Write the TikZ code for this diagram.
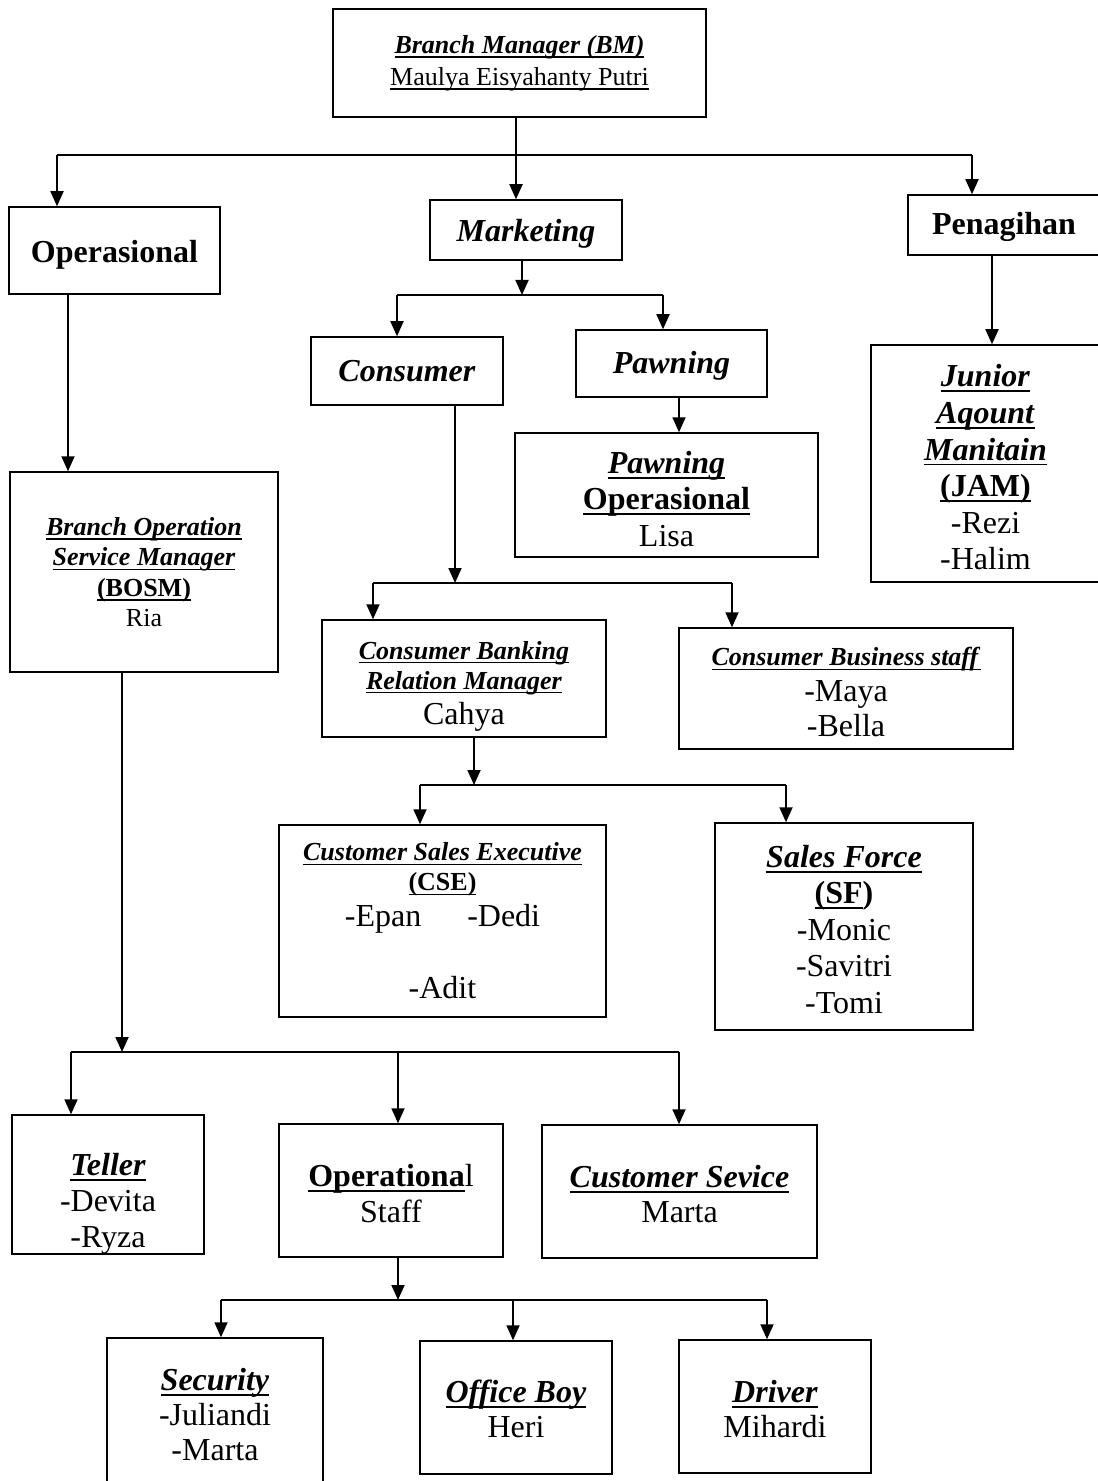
\documentclass[tikz,border=0pt]{standalone}
\usepackage{fontspec}
\setmainfont{Liberation Serif}
\usetikzlibrary{arrows.meta}

\newcommand{\uln}[1]{\setbox0\hbox{#1}\rlap{\vrule width\wd0 height -0.11em depth 0.17em}\box0}
\newcommand{\rolebi}[1]{\uln{\textbf{\textit{#1}}}}
\newcommand{\roleb}[1]{\uln{\textbf{#1}}}
\newcommand{\smallsz}{\fontsize{13}{15.5}\selectfont}

\tikzset{
  unit/.style={draw, line width=0.75pt, align=center, inner sep=0pt,
    font=\fontsize{16}{18.3}\selectfont},
  boxsize/.style 2 args={minimum width=#1, minimum height=#2},
  link/.style={line width=0.9pt},
  arrow/.style={line width=0.9pt, -{Triangle[width=6.5pt,length=7.5pt]}},
  bar/.style={line width=1.25pt}
}

\begin{document}
\begin{tikzpicture}[x=0.5pt, y=-0.5pt]
\useasboundingbox (0,0) rectangle (1097,1481);

% boxes
\node[unit, boxsize={186.5pt}{54pt}, font=\fontsize{13}{16}\selectfont] (bm) at (519.5,63)
  {\rolebi{Branch Manager (BM)}\\\uln{Maulya Eisyahanty Putri}};
\node[unit, boxsize={105.5pt}{43.5pt}] (ops) at (114.5,250.5) {\rule{0pt}{15pt}\textbf{Operasional}};
\node[unit, boxsize={96pt}{30pt}] (mkt) at (526,230) {\rule{0pt}{15pt}\textbf{\textit{Marketing}}};
\node[unit, boxsize={96pt}{30pt}] (pen) at (1004,225) {\rule{0pt}{13pt}\textbf{Penagihan}};
\node[unit, boxsize={114.5pt}{118.5pt}] (jam) at (985.5,463.5)
  {\rule{0pt}{15pt}\rolebi{Junior}\\\rolebi{Aqount}\\\rolebi{Manitain}\\\roleb{(JAM)}\\-Rezi\\-Halim};
\node[unit, boxsize={96pt}{34pt}] (cons) at (407,371) {\textbf{\textit{Consumer}}};
\node[unit, boxsize={95.5pt}{33.5pt}] (pawn) at (671.5,363.5) {\rule{0pt}{13pt}\textbf{\textit{Pawning}}};
\node[unit, boxsize={151.5pt}{62pt}] (pawnops) at (666.5,495)
  {\rule{0pt}{15pt}\rolebi{Pawning}\\\roleb{Operasional}\\Lisa};
\node[unit, boxsize={134pt}{100pt}, font=\fontsize{13}{15.2}\selectfont] (bosm) at (144,572)
  {\rolebi{Branch Operation}\\\rolebi{Service Manager}\\\roleb{(BOSM)}\\Ria};
\node[unit, boxsize={142pt}{58.5pt}, font=\fontsize{16}{15}\selectfont] (cbrm) at (464,678.5)
  {{\smallsz\rule{0pt}{16.5pt}\rolebi{Consumer Banking}}\\{\smallsz\rolebi{Relation Manager}}\\[2.5pt]Cahya};
\node[unit, boxsize={167pt}{60.5pt}, font=\fontsize{16}{17.7}\selectfont] (cbs) at (846,688.5)
  {{\smallsz\rule{0pt}{13pt}\rolebi{Consumer Business staff}}\\-Maya\\-Bella};
\node[unit, boxsize={163.5pt}{96pt}, font=\fontsize{16}{18}\selectfont] (cse) at (442.5,921)
  {{\smallsz\rolebi{Customer Sales Executive}}\\[-3pt]{\smallsz\roleb{(CSE)}}\\
   -Epan\hspace{23pt}-Dedi\\[18pt]-Adit};
\node[unit, boxsize={129pt}{103.5pt}] (sf) at (844,926.5)
  {\rule{0pt}{14pt}\rolebi{Sales Force}\\\roleb{(SF}\textbf{)}\\-Monic\\-Savitri\\-Tomi};
\node[unit, boxsize={96pt}{62.5pt}, font=\fontsize{16}{18}\selectfont] (teller) at (108,1184.5)
  {\rule{0pt}{30pt}\rolebi{Teller}\\-Devita\\-Ryza};
\node[unit, boxsize={112pt}{66.5pt}, font=\fontsize{16}{18}\selectfont] (opstaff) at (391,1190.5)
  {\rule{0pt}{14pt}\roleb{Operationa}l\\Staff};
\node[unit, boxsize={137.5pt}{66.5pt}, font=\fontsize{16}{17.5}\selectfont] (cs) at (679.5,1191.5)
  {\rule{0pt}{14pt}\rolebi{Customer Sevice}\\Marta};
\node[unit, boxsize={108pt}{73pt}, font=\fontsize{16}{17.5}\selectfont] (sec) at (215,1411)
  {\rule{0pt}{15pt}\rolebi{Security}\\-Juliandi\\-Marta};
\node[unit, boxsize={96pt}{66.5pt}, font=\fontsize{16}{17.5}\selectfont] (ob) at (516,1407.5)
  {\rule{0pt}{13pt}\rolebi{Office Boy}\\Heri};
\node[unit, boxsize={96pt}{66.5pt}, font=\fontsize{16}{17.5}\selectfont] (drv) at (775,1406.5)
  {\rule{0pt}{14pt}\rolebi{Driver}\\Mihardi};

% branch manager to the three divisions
\coordinate (split-bm) at (516,155);
\draw[link] (split-bm |- bm.south) -- (split-bm);
\foreach \x/\dst in {57/ops,516/mkt,972/pen} {
  \coordinate (drop-\dst) at (\x,155);
  \draw[arrow] (drop-\dst) -- (drop-\dst |- \dst.north);
}
\draw[bar] (drop-ops) -- (drop-pen);

% marketing
\coordinate (split-mkt) at (522,295);
\draw[arrow] (split-mkt |- mkt.south) -- (split-mkt);
\foreach \x/\dst in {397/cons,663/pawn} {
  \coordinate (drop-\dst) at (\x,295);
  \draw[arrow] (drop-\dst) -- (drop-\dst |- \dst.north);
}
\draw[bar] (drop-cons) -- (drop-pawn);

% single links
\coordinate (x-ops) at (68,0);
\draw[arrow] (x-ops |- ops.south) -- (x-ops |- bosm.north);
\coordinate (x-pawn) at (679,0);
\draw[arrow] (x-pawn |- pawn.south) -- (x-pawn |- pawnops.north);
\coordinate (x-pen) at (992,0);
\draw[arrow] (x-pen |- pen.south) -- (x-pen |- jam.north);

% consumer
\coordinate (split-cons) at (455,583);
\draw[arrow] (split-cons |- cons.south) -- (split-cons);
\foreach \x/\dst in {373/cbrm,732/cbs} {
  \coordinate (drop-\dst) at (\x,583);
  \draw[arrow] (drop-\dst) -- (drop-\dst |- \dst.north);
}
\draw[bar] (drop-cbrm) -- (drop-cbs);

% relation manager
\coordinate (split-cbrm) at (474,785);
\draw[arrow] (split-cbrm |- cbrm.south) -- (split-cbrm);
\foreach \x/\dst in {420/cse,786/sf} {
  \coordinate (drop-\dst) at (\x,785);
  \draw[arrow] (drop-\dst) -- (drop-\dst |- \dst.north);
}
\draw[bar] (drop-cse) -- (drop-sf);

% BOSM
\coordinate (split-bosm) at (122,1052);
\draw[arrow] (split-bosm |- bosm.south) -- (split-bosm);
\foreach \x/\dst in {71/teller,398/opstaff,679/cs} {
  \coordinate (drop-\dst) at (\x,1052);
  \draw[arrow] (drop-\dst) -- (drop-\dst |- \dst.north);
}
\draw[bar] (drop-teller) -- (drop-cs);

% operational staff
\coordinate (split-opstaff) at (398,1300);
\draw[arrow] (split-opstaff |- opstaff.south) -- (split-opstaff);
\foreach \x/\dst in {221/sec,513/ob,767/drv} {
  \coordinate (drop-\dst) at (\x,1300);
  \draw[arrow] (drop-\dst) -- (drop-\dst |- \dst.north);
}
\draw[bar] (drop-sec) -- (drop-drv);
\end{tikzpicture}
\end{document}
